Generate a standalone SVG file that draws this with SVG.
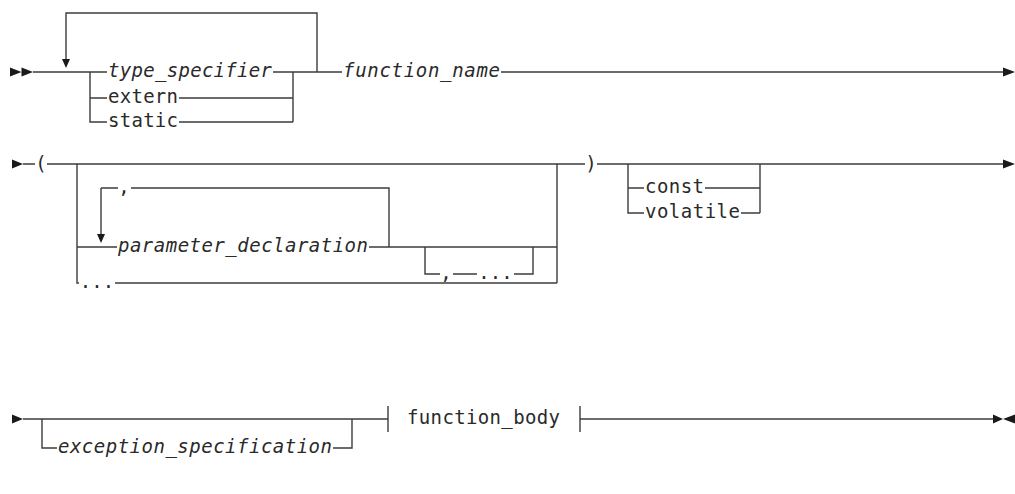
<svg xmlns="http://www.w3.org/2000/svg" width="1015" height="494" viewBox="0 0 1015 494">
<style>
.ln{fill:none;stroke:#3c3c3c;stroke-width:1.4}
.ar{fill:#1a1a1a}
.t{font-family:"DejaVu Sans Mono","Liberation Mono",monospace;font-size:19px;fill:#2a2a2a}
.i{font-style:italic}
.m{text-anchor:middle}
</style>
<rect width="1015" height="494" fill="#fff"/>
<g id="connectors">
<path class="ln" d="M33 72H107M273 72H342M501 72H1003M317 72V13H66V60M90 72V122H107M90 98H107M179 98H293M179 122H293M293 72V122"/>
<path class="ln" d="M23 164H35M47 164H585M597 164H1003M77 164V283H79M115 283H557M557 164V283M77 247H117M369 247H557M101 188V234M101 188H118M131 188H389V247M425 247V274H440M453 274H477M514 274H533V247M628 164V213H644M628 188H644M705 188H760M741 213H760M760 164V213"/>
<path class="ln" d="M23 419H388M42 419V448H57M333 448H352V419M580 419H993M388 406V432M580 406V432"/>
<path class="ar" d="M10 67.5L21.5 72L10 76.5ZM21.5 67.5L33 72L21.5 76.5ZM62 59L70 59L66 68ZM1003 67.5L1015 72L1003 76.5Z"/>
<path class="ar" d="M12 159.5L23 164L12 168.5ZM1003 159.5L1015 164L1003 168.5ZM97 234L105 234L101 243Z"/>
<path class="ar" d="M12 414.5L23 419L12 423.5ZM993 414.5L1003 419L993 423.5ZM1015 414.5L1003 419L1015 423.5Z"/>
</g>
<g id="type_specifier"><text class="t i" x="108" y="77" textLength="164">type_specifier</text></g>
<g id="extern"><text class="t" x="108" y="103" textLength="70">extern</text></g>
<g id="static"><text class="t" x="108" y="127" textLength="70">static</text></g>
<g id="function_name"><text class="t i" x="343" y="77" textLength="157">function_name</text></g>
<g id="lparen"><text class="t m" x="41" y="170">(</text></g>
<g id="rparen"><text class="t m" x="591" y="170">)</text></g>
<g id="comma_repeat"><text class="t m" x="124" y="193">,</text></g>
<g id="parameter_declaration"><text class="t i" x="118" y="252" textLength="250">parameter_declaration</text></g>
<g id="comma_ellipsis"><text class="t m" x="446" y="279">,</text><text class="t m" x="495.5" y="279">...</text></g>
<g id="ellipsis"><text class="t m" x="97" y="288">...</text></g>
<g id="const"><text class="t" x="645" y="193" textLength="59">const</text></g>
<g id="volatile"><text class="t" x="645" y="218" textLength="95">volatile</text></g>
<g id="exception_specification"><text class="t i" x="58" y="453" textLength="274">exception_specification</text></g>
<g id="function_body"><text class="t" x="407" y="424" textLength="153">function_body</text></g>
</svg>
